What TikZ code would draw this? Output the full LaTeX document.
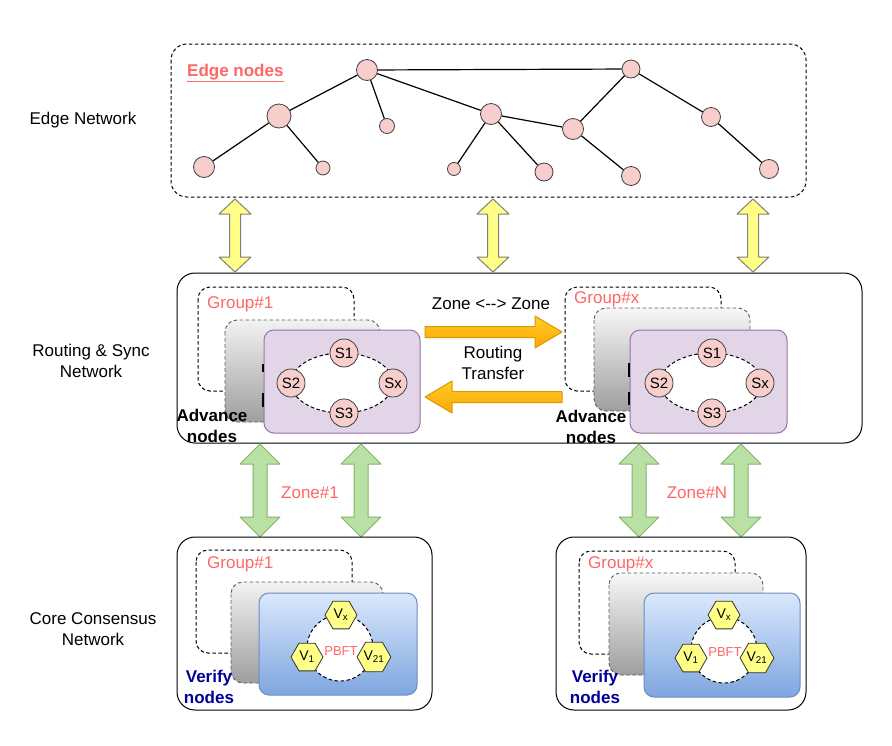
\documentclass[tikz,border=0pt]{standalone}
\usepackage{fontspec}
\setmainfont{Liberation Sans}
\usetikzlibrary{shapes.geometric}
\definecolor{labelred}{HTML}{FF6666}
\definecolor{pinkfill}{HTML}{F8CECC}
\definecolor{purplefill}{HTML}{E1D5E7}
\definecolor{purpleline}{HTML}{9673A6}
\definecolor{bluetop}{HTML}{DAE8FC}
\definecolor{bluebottom}{HTML}{7EA6E0}
\definecolor{blueline}{HTML}{6C8EBF}
\definecolor{hexfill}{HTML}{FFFF88}
\definecolor{greenfill}{HTML}{B9E0A5}
\definecolor{greenline}{HTML}{82B366}
\definecolor{orangetop}{HTML}{FFCD28}
\definecolor{orangebottom}{HTML}{FFA500}
\definecolor{orangeline}{HTML}{D79B00}
\definecolor{verifyblue}{HTML}{000099}
\tikzstyle{lbl}=[font=\fontsize{17}{21}\selectfont, align=center, inner sep=0pt]
\tikzstyle{boldlbl}=[lbl, font=\fontsize{17}{21}\selectfont\bfseries]
\tikzstyle{grouplbl}=[lbl, text=labelred, anchor=west]
\tikzstyle{enode}=[circle, draw=black!75, fill=pinkfill, inner sep=0pt, line width=0.8pt]
\tikzstyle{snode}=[enode, minimum size=28pt, font=\fontsize{15}{17}\selectfont]
\tikzstyle{vnode}=[regular polygon, regular polygon sides=6, draw=black!80, fill=hexfill, inner sep=0pt, minimum size=32pt, line width=0.8pt, font=\fontsize{14}{16}\selectfont]
\tikzstyle{dashedbox}=[draw=black, dash pattern=on 3.5pt off 2.5pt, line width=1pt, rounded corners=12pt]
\tikzstyle{graybox}=[draw=black!65, dash pattern=on 3.5pt off 2.5pt, line width=0.9pt, rounded corners=12pt, top color=black!5, bottom color=black!38]
\tikzstyle{purplebox}=[draw=purpleline, fill=purplefill, line width=1pt, rounded corners=10pt]
\tikzstyle{bluebox}=[draw=blueline, top color=bluetop, bottom color=bluebottom, line width=1pt, rounded corners=10pt]
\tikzstyle{layerbox}=[draw=black, line width=1pt, rounded corners=18pt]
\tikzstyle{ring}=[draw=black, fill=white, dash pattern=on 3.5pt off 2.5pt, line width=1pt]
\tikzstyle{yellowarrow}=[draw=black!50, fill=hexfill, line width=1pt, line join=round]
\tikzstyle{greenarrow}=[draw=greenline, fill=greenfill, line width=1pt, line join=round]
\tikzstyle{orangearrow}=[draw=orangeline, top color=orangetop, bottom color=orangebottom, line width=1pt, line join=round]
% vertical double block arrow: style, x, top tip, bottom tip, head half width, shaft half width, head length
\newcommand{\vdarrow}[7]{%
  \draw[#1] (#2,#3) -- ({#2+#5},{#3+#7}) -- ({#2+#6},{#3+#7}) -- ({#2+#6},{#4-#7}) -- ({#2+#5},{#4-#7})
    -- (#2,#4) -- ({#2-#5},{#4-#7}) -- ({#2-#6},{#4-#7}) -- ({#2-#6},{#3+#7}) -- ({#2-#5},{#3+#7}) -- cycle;}
% horizontal block arrow: style, tail x, tip x, y, head half width, shaft half width, head length (signed)
\newcommand{\harrow}[7]{%
  \draw[#1] (#2,{#4-#6}) -- ({#3-(#7)},{#4-#6}) -- ({#3-(#7)},{#4-#5}) -- (#3,#4)
    -- ({#3-(#7)},{#4+#5}) -- ({#3-(#7)},{#4+#6}) -- (#2,{#4+#6}) -- cycle;}

\begin{document}
\begin{tikzpicture}[x=1pt, y=-1pt]
    \useasboundingbox[fill=white] (0,0) rectangle (892,745);
    % layer names
    \node[lbl] (edgename) at (83,120) {Edge Network};
    \node[lbl] (routename) at (91,361) {Routing \& Sync\\Network};
    \node[lbl] (corename) at (93,629) {Core Consensus\\Network};

    % edge network
    \draw[dashedbox, rounded corners=16pt] (171,44) rectangle (806,197);
    \node[boldlbl, text=labelred, anchor=west] (edgelbl) at (187,73) {\underline{Edge nodes}};
    \node[enode, minimum size=21pt] (r1) at (367,70) {};
    \node[enode, minimum size=18pt] (r2) at (631,69) {};
    \node[enode, minimum size=24pt] (a) at (279,116) {};
    \node[enode, minimum size=15pt] (b) at (387,126) {};
    \node[enode, minimum size=21pt] (c) at (491,114) {};
    \node[enode, minimum size=21pt] (d) at (573,129) {};
    \node[enode, minimum size=19pt] (e) at (711,117) {};
    \node[enode, minimum size=21pt] (l1) at (204,167) {};
    \node[enode, minimum size=14pt] (l2) at (323,168) {};
    \node[enode, minimum size=13pt] (l3) at (454,169) {};
    \node[enode, minimum size=18pt] (l4) at (544,172) {};
    \node[enode, minimum size=19pt] (l5) at (631,176) {};
    \node[enode, minimum size=19pt] (l6) at (769,169) {};
    \draw[line width=1.2pt] (r1) -- (r2);
    \draw[line width=1.2pt] (r1) -- (a);
    \draw[line width=1.2pt] (r1) -- (b);
    \draw[line width=1.2pt] (r1) -- (c);
    \draw[line width=1.2pt] (a) -- (l1);
    \draw[line width=1.2pt] (a) -- (l2);
    \draw[line width=1.2pt] (c) -- (l3);
    \draw[line width=1.2pt] (c) -- (l4);
    \draw[line width=1.2pt] (c) -- (d);
    \draw[line width=1.2pt] (r2) -- (d);
    \draw[line width=1.2pt] (r2) -- (e);
    \draw[line width=1.2pt] (d) -- (l5);
    \draw[line width=1.2pt] (e) -- (l6);

    % edge <-> routing
    \vdarrow{yellowarrow}{235}{199}{272}{16}{5.5}{15}
    \vdarrow{yellowarrow}{493}{199}{272}{16}{5.5}{15}
    \vdarrow{yellowarrow}{753}{199}{272}{16}{5.5}{15}

    % routing & sync network
    \draw[layerbox] (177,273) rectangle (862,443);
    % left group
    \draw[dashedbox] (198,287) rectangle (354,391);
    \node[grouplbl] (grp1) at (207,304) {Group\#1};
    \draw[graybox] (225,320) rectangle (380,422);
    \node[boldlbl] (adv1) at (212,426) {Advance\\nodes};
    \draw[purplebox] (264,330) rectangle (420,433);
    \draw[line width=2pt] (263,364) -- (263,372);
    \draw[line width=2pt] (263,393) -- (263,407);
    \draw[ring] (342,383) ellipse (51pt and 30pt);
    \node[snode] (s1a) at (344,353) {S1};
    \node[snode] (s2a) at (291,383) {S2};
    \node[snode] (sxa) at (393,383) {Sx};
    \node[snode] (s3a) at (344,413) {S3};
    % right group
    \draw[dashedbox] (565,287) rectangle (721,391);
    \node[grouplbl] (grpx) at (574,299) {Group\#x};
    \draw[graybox, top color=black!3] (594,308) rectangle (750,411);
    \node[boldlbl] (adv2) at (591,427) {Advance\\nodes};
    \draw[purplebox] (630,330) rectangle (787,433);
    \draw[line width=2pt] (629,363) -- (629,377);
    \draw[line width=2pt] (629,392) -- (629,405);
    \draw[ring] (711,383) ellipse (51pt and 30pt);
    \node[snode] (s1b) at (712,353) {S1};
    \node[snode] (s2b) at (659,383) {S2};
    \node[snode] (sxb) at (760,383) {Sx};
    \node[snode] (s3b) at (712,413) {S3};
    % zone to zone
    \harrow{orangearrow}{425}{562}{332}{16}{5.5}{27}
    \harrow{orangearrow}{562}{425}{397}{16}{5.5}{-27}
    \node[lbl] (zz) at (491,304) {Zone <-{}-> Zone};
    \node[lbl] (rt) at (493,363) {Routing\\Transfer};

    % routing <-> core
    \vdarrow{greenarrow}{260}{444}{537}{20}{7}{20}
    \vdarrow{greenarrow}{361}{444}{537}{20}{7}{20}
    \vdarrow{greenarrow}{639}{444}{537}{20}{7}{20}
    \vdarrow{greenarrow}{741}{444}{537}{20}{7}{20}
    \node[lbl, text=labelred] (zone1) at (310,493) {Zone\#1};
    \node[lbl, text=labelred] (zonen) at (697,493) {Zone\#N};

    % core consensus, left
    \draw[layerbox] (177,537) rectangle (432,710);
    \draw[dashedbox] (196,550) rectangle (352,653);
    \node[grouplbl] (cgrp1) at (207,564) {Group\#1};
    \draw[graybox] (231,582) rectangle (383,683);
    \draw[bluebox] (259,593) rectangle (417,695);
    \draw[ring] (340,648) circle (33pt);
    \node[vnode] (vxa) at (341,615) {V\textsubscript{x}};
    \node[vnode] (v1a) at (307,657) {V\textsubscript{1}};
    \node[vnode] (v21a) at (374,657) {V\textsubscript{21}};
    \node[lbl, text=labelred, font=\fontsize{13}{15}\selectfont] (pbfta) at (341,651) {PBFT};
    \node[boldlbl, text=verifyblue] (ver1) at (209,687) {Verify\\nodes};
    % core consensus, right
    \draw[layerbox] (556,537) rectangle (806,710);
    \draw[dashedbox] (579,551) rectangle (735,654);
    \node[grouplbl] (cgrpx) at (588,564) {Group\#x};
    \draw[graybox, top color=black!3] (609,573) rectangle (763,675);
    \draw[bluebox] (644,593) rectangle (800,697);
    \draw[ring] (724,650) circle (33pt);
    \node[vnode] (vxb) at (724,615) {V\textsubscript{x}};
    \node[vnode] (v1b) at (691,658) {V\textsubscript{1}};
    \node[vnode] (v21b) at (757,658) {V\textsubscript{21}};
    \node[lbl, text=labelred, font=\fontsize{13}{15}\selectfont] (pbftb) at (725,652) {PBFT};
    \node[boldlbl, text=verifyblue] (ver2) at (595,687) {Verify\\nodes};
\end{tikzpicture}
\end{document}
